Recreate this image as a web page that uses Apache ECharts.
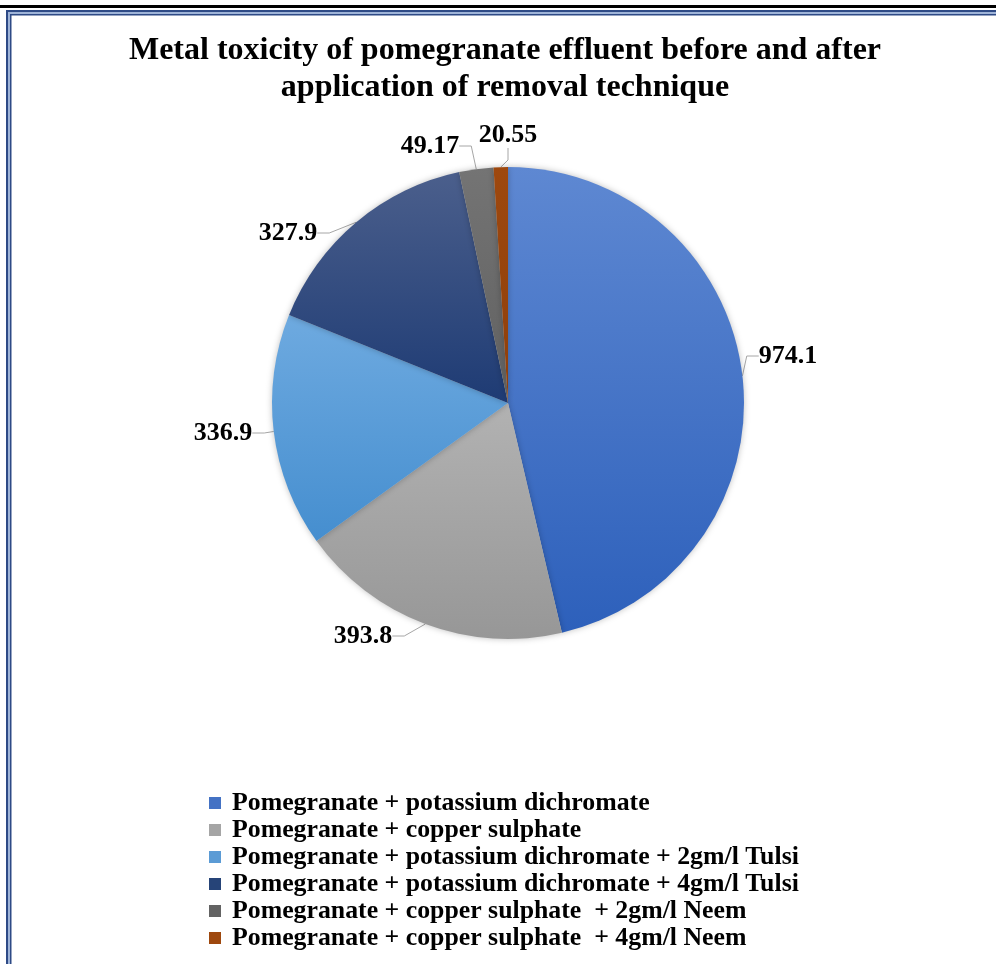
<!DOCTYPE html>
<html>
<head>
<meta charset="utf-8">
<script src="https://cdn.jsdelivr.net/npm/echarts@6/dist/echarts.min.js"></script>
<style>
html,body{margin:0;padding:0;background:#fff;}
#chart{width:996px;height:964px;}
</style>
</head>
<body>
<div id="chart"></div>
<script>
var titleText = 'Metal toxicity of pomegranate effluent before and after\napplication of removal technique';
var categories = [
  'Pomegranate + potassium dichromate',
  'Pomegranate + copper sulphate',
  'Pomegranate + potassium dichromate + 2gm/l Tulsi',
  'Pomegranate + potassium dichromate + 4gm/l Tulsi',
  'Pomegranate + copper sulphate  + 2gm/l Neem',
  'Pomegranate + copper sulphate  + 4gm/l Neem'
];
var values = [974.1, 393.8, 336.9, 327.9, 49.17, 20.55];

// styling / layout (not data)
var colorTop = ['#5E88D2', '#B2B2B2', '#6EAAE0', '#4B5F8C', '#747474', '#9E480E'];
var colorBottom = ['#2D60BB', '#979797', '#458ECF', '#1E3B74', '#606060', '#8E3F0B'];
var legendColors = ['#4472C4', '#A5A5A5', '#5B9BD5', '#264478', '#636363', '#9E480E'];
var labelPos = [[788, 356], [363, 636], [223, 433], [288, 233], [430, 146], [508, 135]];

var FONT = '"Liberation Serif", "Times New Roman", serif';

var data = categories.map(function (name, i) {
  return {
    name: name,
    value: values[i],
    itemStyle: {
      color: new echarts.graphic.LinearGradient(0, 0, 0, 1, [
        {offset: 0, color: colorTop[i]},
        {offset: 1, color: colorBottom[i]}
      ])
    }
  };
});

var chart = echarts.init(document.getElementById('chart'), null, {renderer: 'canvas'});
chart.setOption({
  backgroundColor: '#ffffff',
  animation: false,
  title: {
    text: titleText,
    left: 500,
    top: 27,
    textAlign: 'center',
    textStyle: {
      fontFamily: FONT,
      fontSize: 32,
      fontWeight: 'bold',
      color: '#000',
      lineHeight: 37
    }
  },
  legend: {
    orient: 'vertical',
    left: 204,
    top: 785,
    height: 200,
    itemWidth: 12,
    itemHeight: 12,
    itemGap: 1,
    icon: 'rect',
    data: categories.map(function (c, i) {
      return {name: c, itemStyle: {color: legendColors[i]}};
    }),
    textStyle: {
      fontFamily: FONT,
      fontSize: 25.8,
      fontWeight: 'bold',
      color: '#000',
      lineHeight: 22,
      padding: [0, 0, 0, 6]
    }
  },
  graphic: [
    {type: 'rect', shape: {x: 0, y: 5, width: 996, height: 3}, style: {fill: '#000'}, silent: true},
    {type: 'rect', shape: {x: 6, y: 10, width: 990, height: 2}, style: {fill: '#2E4A86'}, silent: true},
    {type: 'rect', shape: {x: 8, y: 12, width: 988, height: 2}, style: {fill: '#9FB4D8'}, silent: true},
    {type: 'rect', shape: {x: 10, y: 14, width: 986, height: 1.5}, style: {fill: '#2E4A86'}, silent: true},
    {type: 'rect', shape: {x: 6, y: 10, width: 2, height: 954}, style: {fill: '#2E4A86'}, silent: true},
    {type: 'rect', shape: {x: 8, y: 12, width: 2, height: 952}, style: {fill: '#9FB4D8'}, silent: true},
    {type: 'rect', shape: {x: 10, y: 14, width: 1.5, height: 950}, style: {fill: '#2E4A86'}, silent: true}
  ],
  series: [{
    type: 'pie',
    center: [508, 403],
    radius: 236,
    startAngle: 90,
    clockwise: true,
    avoidLabelOverlap: false,
    data: data,
    itemStyle: {
      shadowBlur: 6,
      shadowColor: 'rgba(0,0,0,0.25)'
    },
    label: {
      show: true,
      position: 'outside',
      formatter: '{c}',
      fontFamily: FONT,
      fontSize: 26,
      fontWeight: 'bold',
      color: '#000'
    },
    labelLine: {
      show: true,
      length: 8,
      length2: 12,
      lineStyle: {color: '#A6A6A6', width: 1}
    },
    labelLayout: function (params) {
      var p = labelPos[params.dataIndex];
      return {x: p[0], y: p[1], align: 'center', verticalAlign: 'middle'};
    }
  }]
});
</script>
</body>
</html>
